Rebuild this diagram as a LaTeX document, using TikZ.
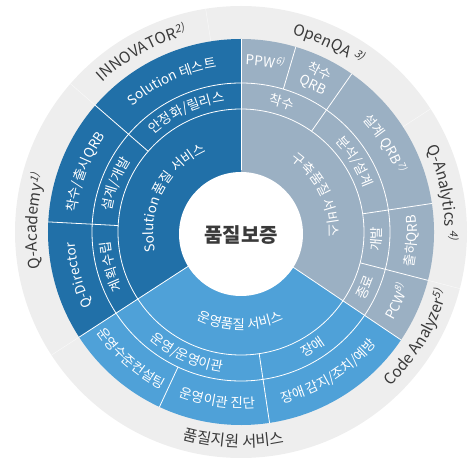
\documentclass[tikz,border=0pt]{standalone}
\usepackage{fontspec}
\setmainfont{Noto Sans CJK KR}[AutoFakeSlant=0.2]
\usetikzlibrary{decorations.text}

\definecolor{qdark}{HTML}{2170A8}
\definecolor{qgray}{HTML}{9BB0C3}
\definecolor{qlight}{HTML}{4FA1D8}
\definecolor{qring}{HTML}{EEEEEE}
\definecolor{qtext}{HTML}{3A3A3A}

\newcommand{\lblfont}{\fontsize{13.5}{15}\selectfont}
\newcommand{\ringfont}{\fontsize{15.5}{17}\selectfont}
% text on an arc: colour, font, radius, middle angle, text
\newcommand{\cwlabel}[5]{%
  \path[decorate, decoration={text along path, text align=center, text color=#1, text={|#2|#5}}]
    ({#4+80}:#3) arc[start angle={#4+80}, end angle={#4-80}, radius=#3];}
\newcommand{\ccwlabel}[5]{%
  \path[decorate, decoration={text along path, text align=center, text color=#1, text={|#2|#5}}]
    ({#4-80}:#3) arc[start angle={#4-80}, end angle={#4+80}, radius=#3];}

\begin{document}
\begin{tikzpicture}[x=1pt, y=1pt,
    sep/.style={white, line width=0.8pt},
    faint/.style={white, opacity=0.6, line width=0.5pt},
    hub/.style={font=\fontsize{20}{22}\selectfont\bfseries, text=qtext}
]
\useasboundingbox (-241,-225) rectangle (232,232);

% rings and sectors
\fill[qring] (0,0) circle[radius=226];
\fill[qdark] (0,0) -- (90:193) arc[start angle=90, end angle=213, radius=193] -- cycle;
\fill[qgray] (0,0) -- (-34:193) arc[start angle=-34, end angle=90, radius=193] -- cycle;
\fill[qlight] (0,0) -- (213:193) arc[start angle=213, end angle=326, radius=193] -- cycle;

\draw[sep] (0,0) circle[radius=123];
\draw[sep] (0,0) circle[radius=149];
\foreach \a in {90,213,326} \draw[sep] (\a:62) -- (\a:193);
\foreach \a in {139,177,55,8.5,-14.5,278.5} \draw[sep] (\a:123) -- (\a:193);
\foreach \a in {73.5,245} \draw[sep] (\a:149) -- (\a:193);
\foreach \a in {213,139,99,33,-14.5} \draw[faint] (\a:193) -- (\a:226);

\fill[white] (0,-2) circle[radius=62];
\node[hub] (core) at (0,-3) {품질보증};

% Solution
\cwlabel{white}{\lblfont}{87.5}{153}{Solution 품질 서비스}
\cwlabel{white}{\lblfont}{131}{114.5}{안정화/릴리스}
\cwlabel{white}{\lblfont}{131}{159}{설계/개발}
\cwlabel{white}{\lblfont}{131}{195}{계획수립}
\cwlabel{white}{\lblfont}{166}{114.5}{Solution 테스트}
\cwlabel{white}{\lblfont}{166}{159}{착수/출시QRB}
\cwlabel{white}{\lblfont}{166}{195}{Q-Director}

% 구축
\cwlabel{white}{\lblfont}{87.5}{26}{구축품질 서비스}
\cwlabel{white}{\lblfont}{131}{72.5}{착수}
\cwlabel{white}{\lblfont}{131}{31.75}{분석/설계}
\ccwlabel{white}{\lblfont}{141}{-3}{개발}
\ccwlabel{white}{\lblfont}{141}{-24}{종료}
\cwlabel{white}{\lblfont}{167}{82}{PPW{\textsuperscript{\itshape 6)}}}
\node[font=\lblfont, text=white, align=center, inner sep=0pt, rotate=-26] (kickoff) at (64:171) {착수\\QRB};
\cwlabel{white}{\lblfont}{166}{31.75}{설계 QRB{\textsuperscript{\itshape 7)}}}
\ccwlabel{white}{\lblfont}{176}{-3}{출하QRB}
\ccwlabel{white}{\lblfont}{176}{-24}{PCW{\textsuperscript{\itshape 8)}}}

% 운영
\ccwlabel{white}{\lblfont}{97.5}{269.5}{운영품질 서비스}
\ccwlabel{white}{\lblfont}{141}{246}{운영/운영이관}
\ccwlabel{white}{\lblfont}{141}{302}{장애}
\ccwlabel{white}{\lblfont}{176}{229}{운영수준컨설팅}
\ccwlabel{white}{\lblfont}{176}{262}{운영이관 진단}
\ccwlabel{white}{\lblfont}{176}{302}{장애 감지/조치/예방}

% outer ring
\cwlabel{qtext}{\ringfont}{204}{177}{Q-Academy{\textsuperscript{\itshape 1)}}}
\cwlabel{qtext}{\ringfont}{204}{119}{INNOVATOR{\textsuperscript{\itshape 2)}}}
\cwlabel{qtext}{\ringfont}{204}{65}{OpenQA {\textsuperscript{\itshape 3)}}}
\cwlabel{qtext}{\ringfont}{204}{11}{Q-Analytics {\textsuperscript{\itshape 4)}}}
\ccwlabel{qtext}{\ringfont}{215}{-31}{Code Analyzer{\textsuperscript{\itshape 5)}}}
\ccwlabel{qtext}{\ringfont}{215}{268}{품질지원 서비스}
\end{tikzpicture}
\end{document}
